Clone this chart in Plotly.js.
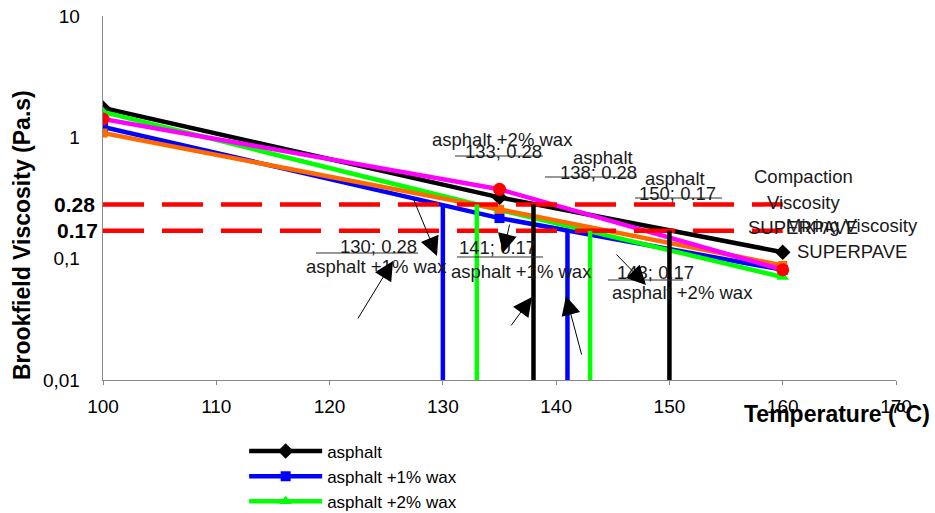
<!DOCTYPE html>
<html>
<head>
<meta charset="utf-8">
<script src="https://cdn.plot.ly/plotly-3.0.1.min.js"></script>
<style>html,body{margin:0;padding:0;background:#fff;}#chart{width:935px;height:513px;}</style>
</head>
<body>
<div id="chart"></div>
<script>
// ---------- data ----------
const temps = [100, 135, 160];
const asphalt = [1.745, 0.32, 0.113];
const wax1 = [1.216, 0.216, 0.081];
const wax2 = [1.617, 0.252, 0.0705];
const seriesMagenta = [1.416, 0.373, 0.081];
const seriesOrange = [1.085, 0.255, 0.088];
const seriesNames = ['asphalt', 'asphalt +1% wax', 'asphalt +2% wax'];
const compactionVisc = 0.28;
const mixingVisc = 0.17;
const limitTemps = [100, 160];
const dropTemps = [130, 133, 138, 141, 143, 150];
const dropVisc = [0.28, 0.28, 0.28, 0.17, 0.17, 0.17];
const dropSeries = ['asphalt +1% wax', 'asphalt +2% wax', 'asphalt', 'asphalt +1% wax', 'asphalt +2% wax', 'asphalt'];
const axisFloor = 0.01;
const xTickVals = [100, 110, 120, 130, 140, 150, 160, 170];
const yTickVals = [0.01, 0.1, 1, 10];
const yTickText = ['0,01', '0,1', '1', '10'];

// ---------- styles ----------
const colorOf = {'asphalt': '#000000', 'asphalt +1% wax': '#0000FF', 'asphalt +2% wax': '#00FF00'};
const FONT = 'Liberation Sans, Arial, sans-serif';
const LW = 4.5;

const traces = [];
traces.push({x: temps, y: asphalt, name: seriesNames[0], mode: 'lines+markers',
  line: {color: '#000000', width: LW}, marker: {symbol: 'diamond', size: 12, color: '#000000'}});
traces.push({x: temps, y: wax1, name: seriesNames[1], mode: 'lines+markers',
  line: {color: '#0000FF', width: LW}, marker: {symbol: 'square', size: 10, color: '#0000FF'}});
traces.push({x: temps, y: wax2, name: seriesNames[2], mode: 'lines+markers',
  line: {color: '#00FF00', width: LW}, marker: {symbol: 'triangle-up', size: 11, color: '#00FF00'}});
traces.push({x: temps, y: seriesOrange, showlegend: false, mode: 'lines+markers',
  line: {color: '#FF6A00', width: LW}, marker: {symbol: 'square', size: 9, color: '#FF6A00'}});
traces.push({x: temps, y: seriesMagenta, showlegend: false, mode: 'lines+markers',
  line: {color: '#FF00FF', width: LW}, marker: {symbol: 'circle', size: 13, color: '#FF0000'}});

[compactionVisc, mixingVisc].forEach(v => {
  traces.push({x: limitTemps, y: [v, v], mode: 'lines', showlegend: false,
    line: {color: '#FF0000', width: LW, dash: '41px,18px'}});
});

dropTemps.forEach((t, i) => {
  traces.push({x: [t, t], y: [dropVisc[i], axisFloor], mode: 'lines', showlegend: false,
    line: {color: colorOf[dropSeries[i]], width: LW}});
});

// ---------- annotations ----------
const P = (px, py) => ({x: (px - 103) / 793, y: (380 - py) / 364});
const ann = [];
function txt(text, px, py, opts) {
  const p = P(px, py);
  ann.push(Object.assign({text: text, x: p.x, y: p.y, xref: 'paper', yref: 'paper',
    showarrow: false, xanchor: 'center', yanchor: 'middle',
    font: {family: FONT, size: 18.5, color: '#1a1a1a'}}, opts || {}));
}
const lbl = i => dropTemps[i] + '; ' + dropVisc[i];

txt(dropSeries[1], 502, 139);
txt(lbl(1), 503, 151);
txt('asphalt', 603, 158);
txt(lbl(2), 598, 172);
txt('asphalt', 675, 178);
txt(lbl(5), 677, 193);
txt('Compaction', 803, 176);
txt('Viscosity', 803, 203);
txt('SUPERPAVE', 803, 228);
txt('Mixing Viscosity', 852, 226);
txt('SUPERPAVE', 852, 252);
txt(lbl(0), 378, 246);
txt(dropSeries[0], 376, 266);
txt(lbl(3), 497, 247);
txt(dropSeries[3], 521, 271);
txt(lbl(4), 655, 272);
txt(dropSeries[4], 682, 292);

txt('<b>' + compactionVisc.toFixed(2) + '</b>', 97, 205, {xanchor: 'right', font: {family: FONT, size: 21, color: '#000'}});
txt('<b>' + mixingVisc.toFixed(2) + '</b>', 100, 230, {xanchor: 'right', font: {family: FONT, size: 21, color: '#000'}});

txt('<b>Brookfield Viscosity (Pa.s)</b>', 22, 235, {textangle: -90, font: {family: FONT, size: 23, color: '#000'}});
txt('<b>Temperature (<sup>o</sup>C)</b>', 837, 412, {font: {family: FONT, size: 23, color: '#000'}});

const arrows = [[437,256,413,198],[393,261,357,320],[503,253,510,223],[532,297,510,327],[566,296,582,356],[646,285,615,253]];
arrows.forEach(a => {
  const p = P(a[0], a[1]);
  ann.push({text: '', x: p.x, y: p.y, xref: 'paper', yref: 'paper', showarrow: true,
    ax: a[2] - a[0], ay: a[3] - a[1], arrowhead: 2, arrowsize: 3.8, arrowwidth: 1,
    arrowcolor: '#000', standoff: 0, startstandoff: 0});
});

const underlines = [[455,543,156],[545,637,177],[635,722,198],[316,418,253],[457,543,257],[608,683,280]];
const shapes = underlines.map(u => {
  const a = P(u[0], u[2]), b = P(u[1], u[2]);
  return {type: 'line', xref: 'paper', yref: 'paper', x0: a.x, x1: b.x, y0: a.y, y1: b.y,
    line: {color: '#333', width: 1.2}};
});

const layout = {
  width: 935, height: 513,
  margin: {l: 103, r: 39, t: 16, b: 133, autoexpand: false},
  paper_bgcolor: '#fff', plot_bgcolor: '#fff',
  showlegend: true,
  legend: {x: 0.178, y: -0.147, xanchor: 'left', yanchor: 'top', bgcolor: 'rgba(0,0,0,0)',
    font: {family: FONT, size: 17, color: '#000'}, itemwidth: 73, tracegroupgap: 0},
  xaxis: {range: [100, 170], tickvals: xTickVals, showline: true, linecolor: '#868686', linewidth: 1.3,
    ticks: 'outside', ticklen: 4, tickcolor: '#868686', showgrid: false, zeroline: false,
    tickfont: {family: FONT, size: 19, color: '#000'}, ticklabelstandoff: 5},
  yaxis: {type: 'log', range: [-2, 1], tickvals: yTickVals, ticktext: yTickText, showline: true,
    linecolor: '#868686', linewidth: 1.3, ticks: '', showgrid: false, zeroline: false,
    tickfont: {family: FONT, size: 19, color: '#000'}, ticklabelstandoff: 18},
  annotations: ann,
  shapes: shapes
};

Plotly.newPlot('chart', traces, layout, {displayModeBar: false, staticPlot: true});
</script>
</body>
</html>
